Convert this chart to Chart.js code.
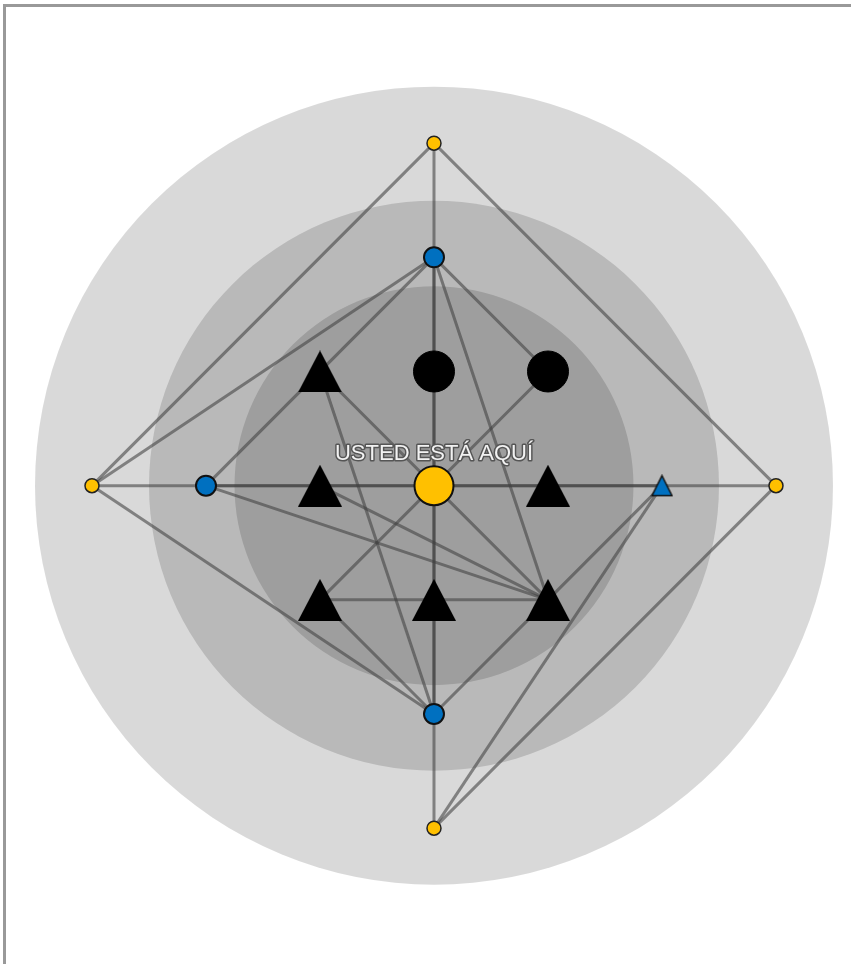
<!DOCTYPE html>
<html>
<head>
<meta charset="utf-8">
<script src="https://cdn.jsdelivr.net/npm/chart.js@4"></script>
<style>
    html, body { margin: 0; padding: 0; background: #fff; overflow: hidden; }
    #frame {
        position: absolute; left: 3px; top: 4px; right: 0; bottom: 0;
        border-top: 3px solid #999; border-left: 3px solid #999;
    }
    #map { position: absolute; left: 0; top: 0; }
</style>
</head>
<body>
<canvas id="map" width="851" height="964"></canvas>
<div id="frame"></div>
<script>
// nodes of the diagram (grid units, centre = "usted está aquí")
const nodeNames = ["YT", "BT", "TUL", "C1", "C2", "YL", "BL", "TL", "ME", "TR", "BTR", "YR", "TLL", "TLM", "TLR", "BB", "YB"];
const nodeX     = [0, 0, -1, 0, 1, -3, -2, -1, 0, 1, 2, 3, -1, 0, 1, 0, 0];
const nodeY     = [3, 2, 1, 1, 1, 0, 0, 0, 0, 0, 0, 0, -1, -1, -1, -2, -3];
const nodeKind  = ["yellow", "blue", "tri", "dot", "dot", "yellow", "blue", "tri", "me", "tri", "blueTri", "yellow", "tri", "tri", "tri", "blue", "yellow"];

// connections between nodes
const edgeFrom = ["YT", "YT", "YT", "BT", "YL", "BL", "YL", "YL", "BL", "BL", "TUL", "TUL", "BT", "BT", "C2", "TL", "TLL", "TLL", "BB", "BTR", "BTR", "YR"];
const edgeTo   = ["YL", "YR", "YB", "BB", "YR", "BTR", "BT", "BB", "BT", "TLR", "BB", "TLR", "C2", "TLR", "TLL", "TLR", "TLR", "BB", "TLR", "TLR", "YB", "YB"];

// background rings (radius in grid units)
const ringRadii = [3.5, 2.5, 1.75];

const hereLabel = "USTED ESTÁ AQUÍ";

function triangleImage(w, h, fill, stroke, lw) {
    const c = document.createElement("canvas");
    c.width = w + lw * 2;
    c.height = h + lw * 2;
    const ctx = c.getContext("2d");
    ctx.beginPath();
    ctx.moveTo(c.width / 2, lw);
    ctx.lineTo(c.width - lw, c.height - lw);
    ctx.lineTo(lw, c.height - lw);
    ctx.closePath();
    ctx.fillStyle = fill;
    ctx.fill();
    if (lw) {
        ctx.lineWidth = lw;
        ctx.strokeStyle = stroke;
        ctx.stroke();
    }
    return c;
}

const blackTri = triangleImage(44, 42, "#000", null, 0);
const blueTri = triangleImage(20, 20, "#0070C0", "#111", 1.5);

function pointsOf(kind) {
    const out = [];
    nodeNames.forEach((n, i) => {
        if (nodeKind[i] === kind) out.push({ x: nodeX[i], y: nodeY[i] });
    });
    return out;
}

function nodePoint(name) {
    const i = nodeNames.indexOf(name);
    return { x: nodeX[i], y: nodeY[i] };
}

const datasets = [];

edgeFrom.forEach((from, i) => {
    datasets.push({
        type: "line",
        order: 10,
        data: [nodePoint(from), nodePoint(edgeTo[i])],
        borderColor: "rgba(64, 64, 64, 0.58)",
        borderWidth: 3,
        pointRadius: 0,
        fill: false
    });
});

datasets.push(
    { order: 6, data: pointsOf("tri"), pointStyle: blackTri, pointRadius: 22 },
    { order: 5, data: pointsOf("dot"), backgroundColor: "#000", borderColor: "#000", borderWidth: 1, pointRadius: 20.5 },
    { order: 4, data: pointsOf("blueTri"), pointStyle: blueTri, pointRadius: 11 },
    { order: 3, data: pointsOf("blue"), backgroundColor: "#0070C0", borderColor: "#111", borderWidth: 2, pointRadius: 10 },
    { order: 2, data: pointsOf("yellow"), backgroundColor: "#FFC000", borderColor: "#222", borderWidth: 1.5, pointRadius: 7 },
    { order: 1, data: pointsOf("me"), backgroundColor: "#FFC000", borderColor: "#111", borderWidth: 2, pointRadius: 19.5 }
);

const rings = {
    id: "rings",
    beforeDatasetsDraw(chart) {
        const { ctx, scales: { x, y } } = chart;
        const cx = x.getPixelForValue(0), cy = y.getPixelForValue(0);
        ctx.save();
        ringRadii.forEach(r => {
            const rad = x.getPixelForValue(r) - cx;
            ctx.beginPath();
            ctx.arc(cx, cy, rad, 0, Math.PI * 2);
            ctx.fillStyle = "rgba(0, 0, 0, 0.15)";
            ctx.fill();
        });
        ctx.restore();
    }
};

const label = {
    id: "label",
    afterDatasetsDraw(chart) {
        const { ctx, scales: { x, y } } = chart;
        const me = nodePoint("ME");
        const px = x.getPixelForValue(me.x), py = y.getPixelForValue(me.y) - 26;
        ctx.save();
        ctx.font = "22px 'Liberation Sans', Arial, sans-serif";
        ctx.textAlign = "center";
        ctx.textBaseline = "alphabetic";
        ctx.lineJoin = "round";
        ctx.lineWidth = 3;
        ctx.strokeStyle = "#555";
        ctx.strokeText(hereLabel, px, py);
        ctx.fillStyle = "#f2f2f2";
        ctx.fillText(hereLabel, px, py);
        ctx.restore();
    }
};

new Chart(document.getElementById("map").getContext("2d"), {
    type: "scatter",
    data: { datasets: datasets },
    options: {
        responsive: false,
        animation: false,
        layout: { padding: 0, autoPadding: false },
        plugins: { legend: { display: false }, tooltip: { enabled: false } },
        scales: {
            x: { type: "linear", display: false, min: -3.807, max: 3.658 },
            y: { type: "linear", display: false, min: -4.19, max: 4.254 }
        }
    },
    plugins: [rings, label]
});
</script>
</body>
</html>
